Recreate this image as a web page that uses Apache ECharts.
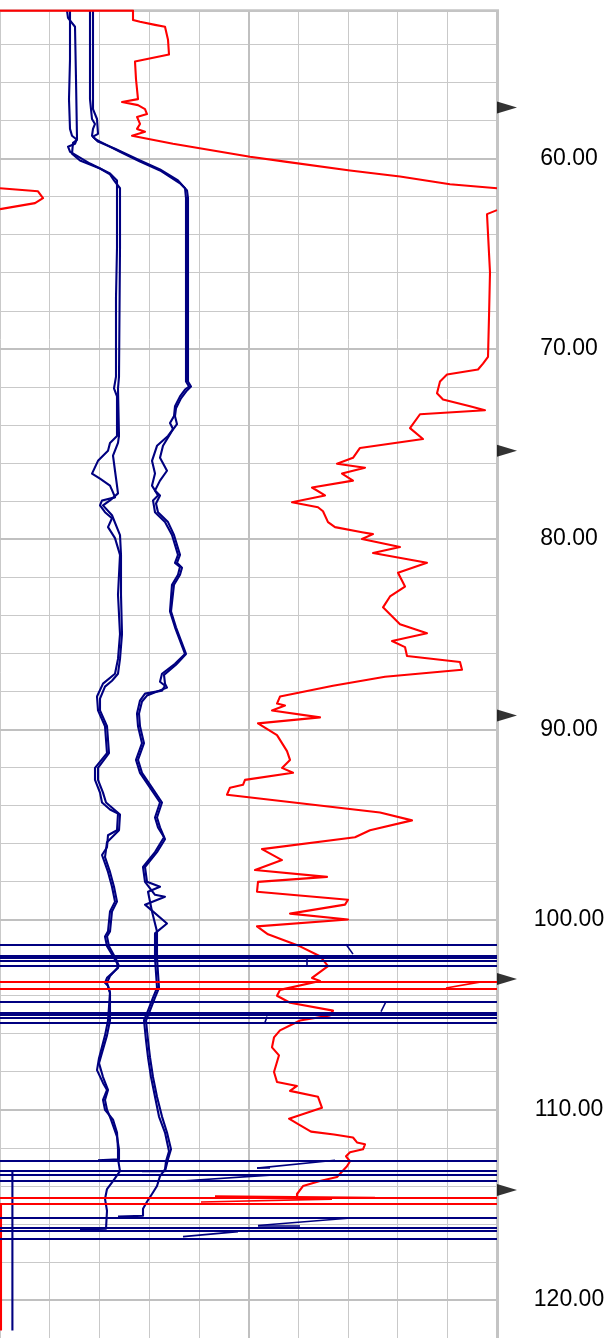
<!DOCTYPE html>
<html><head><meta charset="utf-8">
<script src="https://cdn.jsdelivr.net/npm/echarts@6/dist/echarts.min.js"></script>
<style>html,body{margin:0;padding:0;background:#fff}#c{width:609px;height:1338px}</style>
</head><body><div id="c"></div>
<script>
// depth axis (m) and curve values (arbitrary log units, 0..497 full track)
const depthMin = 52, depthMax = 122, depthStep = 2;
const trackMax = 497, trackStep = 49.7;
const topDepth = 52.214;
const majorDepths = [60, 70, 80, 90, 100, 110, 120];
const markerDepths = [57.32, 75.36, 89.27, 103.125, 114.22];

const redTop = [[0,52.22],[133,52.22],[133,52.71],[140,52.81],[155,52.97],[165,53.07],[168,53.75],[169,54.53],[135,54.90],[136,55.83],[138,56.875],[122,57.03],[138,57.19],[145,57.40],[147,57.66],[137,57.81],[140,58.18],[137,58.44],[145,58.59],[132,58.80],[173,59.22],[250,59.90],[285,60.16],[350,60.625],[400,60.94],[450,61.35],[497,61.56]];
const redWrap = [[0,61.56],[38,61.72],[43,62.08],[35,62.34],[0,62.66]];
const redMid = [[497,62.71],[487,62.92],[490,65.99],[489,68.33],[488,70.42],[483,70.78],[478,71.09],[447,71.35],[440,71.72],[437,72.34],[443,72.66],[470,73.02],[485,73.23],[420,73.44],[410,74.17],[423,74.74],[360,75.21],[353,75.73],[337,76.04],[365,76.25],[342,76.56],[353,76.93],[312,77.29],[325,77.71],[292,78.07],[318,78.33],[323,78.54],[328,79.11],[335,79.375],[362,79.64],[373,79.74],[362,80.00],[400,80.42],[373,80.73],[427,81.25],[398,81.77],[405,82.50],[390,83.02],[383,83.59],[400,84.48],[427,84.95],[392,85.36],[405,85.68],[407,86.15],[460,86.46],[462,86.875],[385,87.24],[333,87.71],[280,88.28],[277,88.65],[285,88.75],[272,89.01],[320,89.375],[258,89.69],[277,90.31],[287,91.15],[290,91.61],[282,92.03],[293,92.29],[245,92.66],[243,92.92],[230,93.07],[227,93.44],[380,94.375],[412,94.79],[370,95.31],[355,95.68],[262,96.30],[282,96.875],[255,97.40],[327,97.76],[258,98.02],[257,98.54],[348,98.96],[345,99.22],[290,99.69],[348,100.00],[257,100.36],[268,100.78],[300,101.41],[320,101.93],[328,102.45],[312,103.07],[320,103.23],[280,103.70],[277,104.01],[290,104.375],[333,104.79],[330,105.05],[300,105.31],[280,105.83],[274,106.20],[272,106.72],[279,107.14],[274,108.02],[277,108.54],[297,108.75],[290,109.01],[318,109.32],[322,109.90],[289,110.47],[299,110.78],[311,111.15],[334,111.30],[353,111.46],[357,111.72],[365,111.82],[363,112.08],[350,112.24],[346,112.45],[350,112.71],[347,112.97],[337,113.54],[320,113.75],[303,114.01],[297,114.43],[297,114.64]];
const redTail = [[1,114.95],[1,121.6]];

const blueA1 = [[67,52.22],[68,52.60],[75,53.07],[76,55.83],[77,58.96],[75,59.22],[68,59.375],[66,59.48],[70,59.64],[75,59.79],[90,60.26],[110,60.78],[117,61.15],[117,64.69],[116,67.29],[116,71.46],[114,72.08],[117,72.50],[117,74.58],[110,74.95],[108,75.36],[98,75.89],[92,76.56],[100,76.82],[110,77.19],[113,77.55],[115,77.81],[102,77.97],[100,78.23],[105,78.59],[112,78.91],[108,79.375],[115,79.95],[120,80.83],[118,82.92],[120,85.00],[118,86.30],[115,87.08],[103,87.60],[97,88.28],[98,89.01],[105,89.84],[107,91.25],[95,92.03],[95,92.66],[100,93.33],[102,93.85],[110,94.22],[118,94.43],[117,95.31],[108,95.57],[107,96.20],[102,96.61],[108,97.50],[112,98.28],[115,99.06],[110,99.58],[108,100.625],[105,100.89],[107,101.41],[113,101.93],[117,102.29],[118,102.55],[107,103.07],[105,103.33],[108,103.49],[110,103.85],[108,105.31],[105,106.09],[99,107.29],[97,107.92],[103,108.59],[107,108.96],[103,109.48],[105,110.00],[113,110.52],[117,111.20],[118,112.08],[118,112.60],[120,113.23],[113,113.75],[107,114.17],[105,114.69],[107,115.31],[106,116.25],[80,116.30]];
const blueA2 = [[70,52.22],[70,54.79],[69,56.875],[70,58.44],[72,58.80],[77,59.01],[73,59.17],[72,59.74],[80,60.10],[100,60.52],[110,60.83],[114,61.15],[120,61.56],[120,64.69],[119,71.46],[118,72.08],[119,74.58],[118,74.95],[113,75.62],[115,76.41],[117,77.19],[118,77.60],[110,77.97],[103,78.23],[112,78.75],[120,79.79],[121,80.83],[121,82.92],[122,85.00],[120,86.30],[118,87.08],[112,87.45],[105,87.76],[100,88.39],[100,89.01],[107,89.84],[109,91.25],[98,92.03],[98,92.66],[103,93.33],[106,93.85],[120,94.48],[119,95.31],[107,95.94],[105,96.72],[110,97.50],[114,98.28],[117,99.06],[112,99.58],[110,100.625],[107,100.89],[109,101.41],[116,102.08],[119,102.45],[110,102.97],[107,103.33],[110,103.85],[110,105.31],[107,106.09],[99,107.55],[103,108.28],[108,108.96],[105,109.48],[107,110.00],[111,110.52],[117,111.41],[119,112.08],[119,112.60],[98,112.66]];
const blueB1 = [[90,52.22],[90,56.875],[92,57.92],[95,58.18],[93,58.44],[92,58.80],[95,58.96],[100,59.11],[120,59.64],[140,60.16],[160,60.625],[180,61.30],[185,61.56],[186,62.08],[186,71.72],[189,71.98],[185,72.14],[180,72.50],[175,73.02],[174,73.54],[170,73.90],[173,74.22],[168,74.58],[157,75.10],[152,75.89],[155,76.56],[152,77.19],[158,77.71],[153,77.97],[155,78.59],[165,79.11],[172,79.79],[178,80.83],[175,81.25],[180,81.46],[178,81.875],[172,82.40],[170,83.80],[175,84.64],[185,86.04],[175,86.56],[162,87.08],[160,87.50],[165,87.71],[162,87.97],[145,88.125],[140,88.49],[137,89.17],[138,89.84],[142,90.73],[136,91.61],[140,92.29],[150,93.07],[160,93.85],[155,94.64],[158,95.16],[164,95.68],[155,96.46],[143,97.24],[145,98.02],[155,98.70],[165,98.80],[145,99.22],[167,100.21],[155,100.73],[155,102.03],[157,103.59],[153,104.11],[148,104.79],[144,105.31],[146,106.35],[148,107.24],[151,108.28],[155,109.32],[159,110.36],[165,111.20],[169,112.19],[166,112.71],[165,113.13],[160,113.49],[157,114.01],[152,114.43],[147,114.84],[143,115.21],[143,115.57],[118,115.62]];
const blueB2 = [[93,52.22],[93,57.40],[97,57.92],[98,58.70],[93,58.85],[98,59.11],[115,59.48],[140,60.10],[160,60.57],[178,61.15],[187,61.67],[188,62.08],[188,71.72],[191,71.98],[187,72.19],[181,72.60],[176,73.125],[175,73.54],[177,73.96],[172,74.32],[163,75.10],[160,75.73],[167,76.41],[160,76.93],[155,77.45],[160,77.71],[156,78.13],[158,78.59],[168,79.11],[174,79.79],[180,80.83],[177,81.25],[182,81.51],[180,81.875],[174,82.40],[171,83.80],[176,84.64],[186,86.04],[176,86.61],[164,87.14],[165,87.60],[167,87.81],[147,88.23],[142,88.54],[139,89.17],[140,89.84],[144,90.73],[138,91.61],[142,92.29],[152,93.07],[162,93.85],[157,94.64],[160,95.16],[165,95.78],[157,96.46],[145,97.24],[147,98.02],[160,98.28],[148,98.54],[152,99.58],[157,100.625],[157,102.03],[159,103.59],[155,104.11],[150,104.79],[146,105.31],[148,106.35],[150,107.24],[153,108.28],[157,109.32],[162,110.36],[167,111.20],[171,112.08],[168,112.60],[165,113.23],[142,113.23]];
const blueTail = [[12.4,113.23],[12.4,121.6]];

const blueRuleDepths = [101.35, 101.875, 102.03, 102.16, 102.42, 104.32, 104.90, 105.03, 105.18, 105.42, 112.66, 113.23, 113.41, 113.75, 115.68, 116.20, 116.35, 116.77];
const redRuleDepths = [103.28, 103.65, 114.64, 114.95];
const blueSlants = [[346,101.30,353,101.82],[307,102.08,307,102.40],[386,104.32,381,104.84],[267,105.10,265,105.42],[335,112.66,257,113.07],[257,113.07,270,113.07],[270,113.44,182,113.75],[354,115.68,258,116.09],[258,116.09,300,116.09],[238,116.41,183,116.67]];
const redSlants = [[481,103.28,446,103.60],[215,114.54,375,114.62],[201,114.85,332,114.70]];

const BLUE = '#000080', RED = '#ff0000', GRID = '#c9c9c9';

function curve(name, data, color, z) {
  return { name, type: 'line', data, showSymbol: false, symbol: 'none', z: z || 3,
    lineStyle: { color, width: 2.1, join: 'round' }, animation: false, silent: true };
}
function slants(list, color) {
  return { type: 'lines', coordinateSystem: 'cartesian2d', z: 4, silent: true, animation: false,
    data: list.map(s => ({ coords: [[s[0], s[1]], [s[2], s[3]]] })),
    lineStyle: { color, width: 1.6, opacity: 1 } };
}
function rules(depths, color, width, z) {
  return { type: 'line', data: [], z: z, silent: true, animation: false,
    markLine: { silent: true, symbol: 'none', animation: false, z: z, label: { show: false },
      lineStyle: { color, width, type: 'solid' },
      data: depths.map(d => ({ yAxis: d })) } };
}

const chart = echarts.init(document.getElementById('c'), null, { renderer: 'canvas' });
chart.setOption({
  backgroundColor: '#fff',
  animation: false,
  grid: { left: 0, width: trackMax, top: 6.4, height: 1344, containLabel: false },
  xAxis: { type: 'value', min: 0, max: trackMax, interval: trackStep,
    axisLabel: { show: false }, axisTick: { show: false }, axisLine: { show: false },
    splitLine: { show: true, lineStyle: { color: GRID, width: 1 } } },
  yAxis: { type: 'value', inverse: true, position: 'right', min: depthMin, max: depthMax, interval: depthStep,
    axisTick: { show: false }, axisLine: { show: false },
    splitLine: { show: true, lineStyle: { color: GRID, width: 1 } },
    axisLabel: { margin: 72, align: 'center', color: '#000', fontSize: 23, fontFamily: 'Liberation Sans, Arial, sans-serif',
      formatter: v => (Math.abs(v % 10) < 1e-6 ? v.toFixed(2) : '') } },
  graphic: [{ type: 'rect', shape: { x: 0, y: 0, width: 500, height: 9.3 }, style: { fill: '#fff' }, z: 100, silent: true }],
  series: [
    { type: 'line', data: [], z: 1, silent: true,
      markLine: { silent: true, symbol: 'none', z: 1, label: { show: false }, animation: false,
        lineStyle: { color: '#c0c0c0', width: 2, type: 'solid' },
        data: majorDepths.map(d => ({ yAxis: d })).concat([{ xAxis: trackMax / 2 }]) } },
    { type: 'line', data: [], z: 1, silent: true,
      markLine: { silent: true, symbol: 'none', z: 1, label: { show: false }, animation: false,
        lineStyle: { color: '#c4c4c4', width: 3, type: 'solid' },
        data: [{ yAxis: topDepth }, { xAxis: trackMax }] } },
    curve('A1', blueA1, BLUE), curve('A2', blueA2, BLUE),
    curve('B1', blueB1, BLUE), curve('B2', blueB2, BLUE),
    curve('blueTail', blueTail, BLUE),
    curve('redTop', redTop, RED, 5), curve('redWrap', redWrap, RED, 5),
    curve('redMid', redMid, RED, 5), curve('redTail', redTail, RED, 5),
    rules(blueRuleDepths, BLUE, 2, 6),
    rules(redRuleDepths, RED, 2, 7),
    slants(blueSlants, BLUE), slants(redSlants, RED),
    { type: 'scatter', data: markerDepths.map(d => [trackMax, d]), clip: false, z: 8, silent: true,
      symbol: 'path://M0,0 L20,6 L0,12 Z', symbolSize: [20, 12], symbolOffset: [10, 0],
      itemStyle: { color: '#000' }, animation: false }
  ]
});
</script>
</body></html>
